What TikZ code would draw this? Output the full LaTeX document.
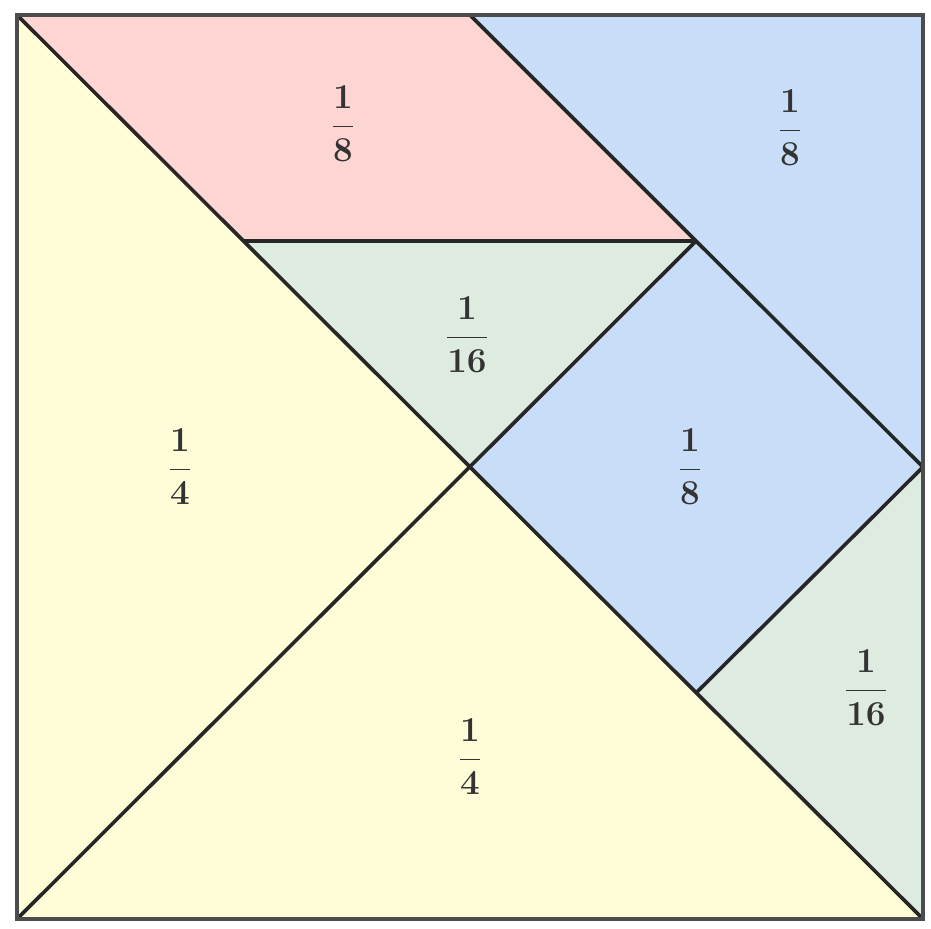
\documentclass[tikz,border=0pt]{standalone}
\begin{document}
\begin{tikzpicture}[x=0.25mm,y=-0.25mm,
  piece/.style={draw=black!85, line width=0.9mm, line join=round},
  lab/.style={font=\fontsize{25}{30}\selectfont\boldmath, text=black!80}]
\definecolor{cpink}{HTML}{FDD6D4}
\definecolor{cblue}{HTML}{C8DDF7}
\definecolor{cgreen}{HTML}{DEEBE1}
\definecolor{cyellow}{HTML}{FFFDD8}
\useasboundingbox (0,0) rectangle (931,929);
\fill[white] (0,0) rectangle (931,929);
\coordinate (TL) at (17,15);
\coordinate (TR) at (923,15);
\coordinate (BL) at (17,919);
\coordinate (BR) at (923,919);
\coordinate (C) at (470,467);
\coordinate (T) at (470,15);
\coordinate (Q) at (696,241);
\coordinate (P) at (243,241);
\coordinate (R) at (923,467);
\coordinate (S) at (696,693);
% pieces
\fill[cyellow] (BL) -- (TL) -- (C) -- cycle;
\fill[cyellow] (BL) -- (BR) -- (C) -- cycle;
\fill[cpink] (TL) -- (T) -- (Q) -- (P) -- cycle;
\fill[cblue] (T) -- (TR) -- (R) -- cycle;
\fill[cgreen] (P) -- (Q) -- (C) -- cycle;
\fill[cblue] (C) -- (Q) -- (R) -- (S) -- cycle;
\fill[cgreen] (S) -- (R) -- (BR) -- cycle;
% lines
\draw[piece] (TL) -- (BR);
\draw[piece] (BL) -- (Q);
\draw[piece] (P) -- (Q);
\draw[piece] (T) -- (Q) -- (R);
\draw[piece] (R) -- (S);
\draw[draw=black!70, line width=1.1mm] (TL) rectangle (BR);
% labels
\node[lab] (l1) at (343,124) {$\displaystyle\frac{1}{8}$};
\node[lab] (l2) at (790,128) {$\displaystyle\frac{1}{8}$};
\node[lab] (l3) at (467,335) {$\displaystyle\frac{1}{16}$};
\node[lab] (l4) at (180,467) {$\displaystyle\frac{1}{4}$};
\node[lab] (l5) at (690,467) {$\displaystyle\frac{1}{8}$};
\node[lab] (l6) at (866,688) {$\displaystyle\frac{1}{16}$};
\node[lab] (l7) at (470,757) {$\displaystyle\frac{1}{4}$};
\end{tikzpicture}
\end{document}
